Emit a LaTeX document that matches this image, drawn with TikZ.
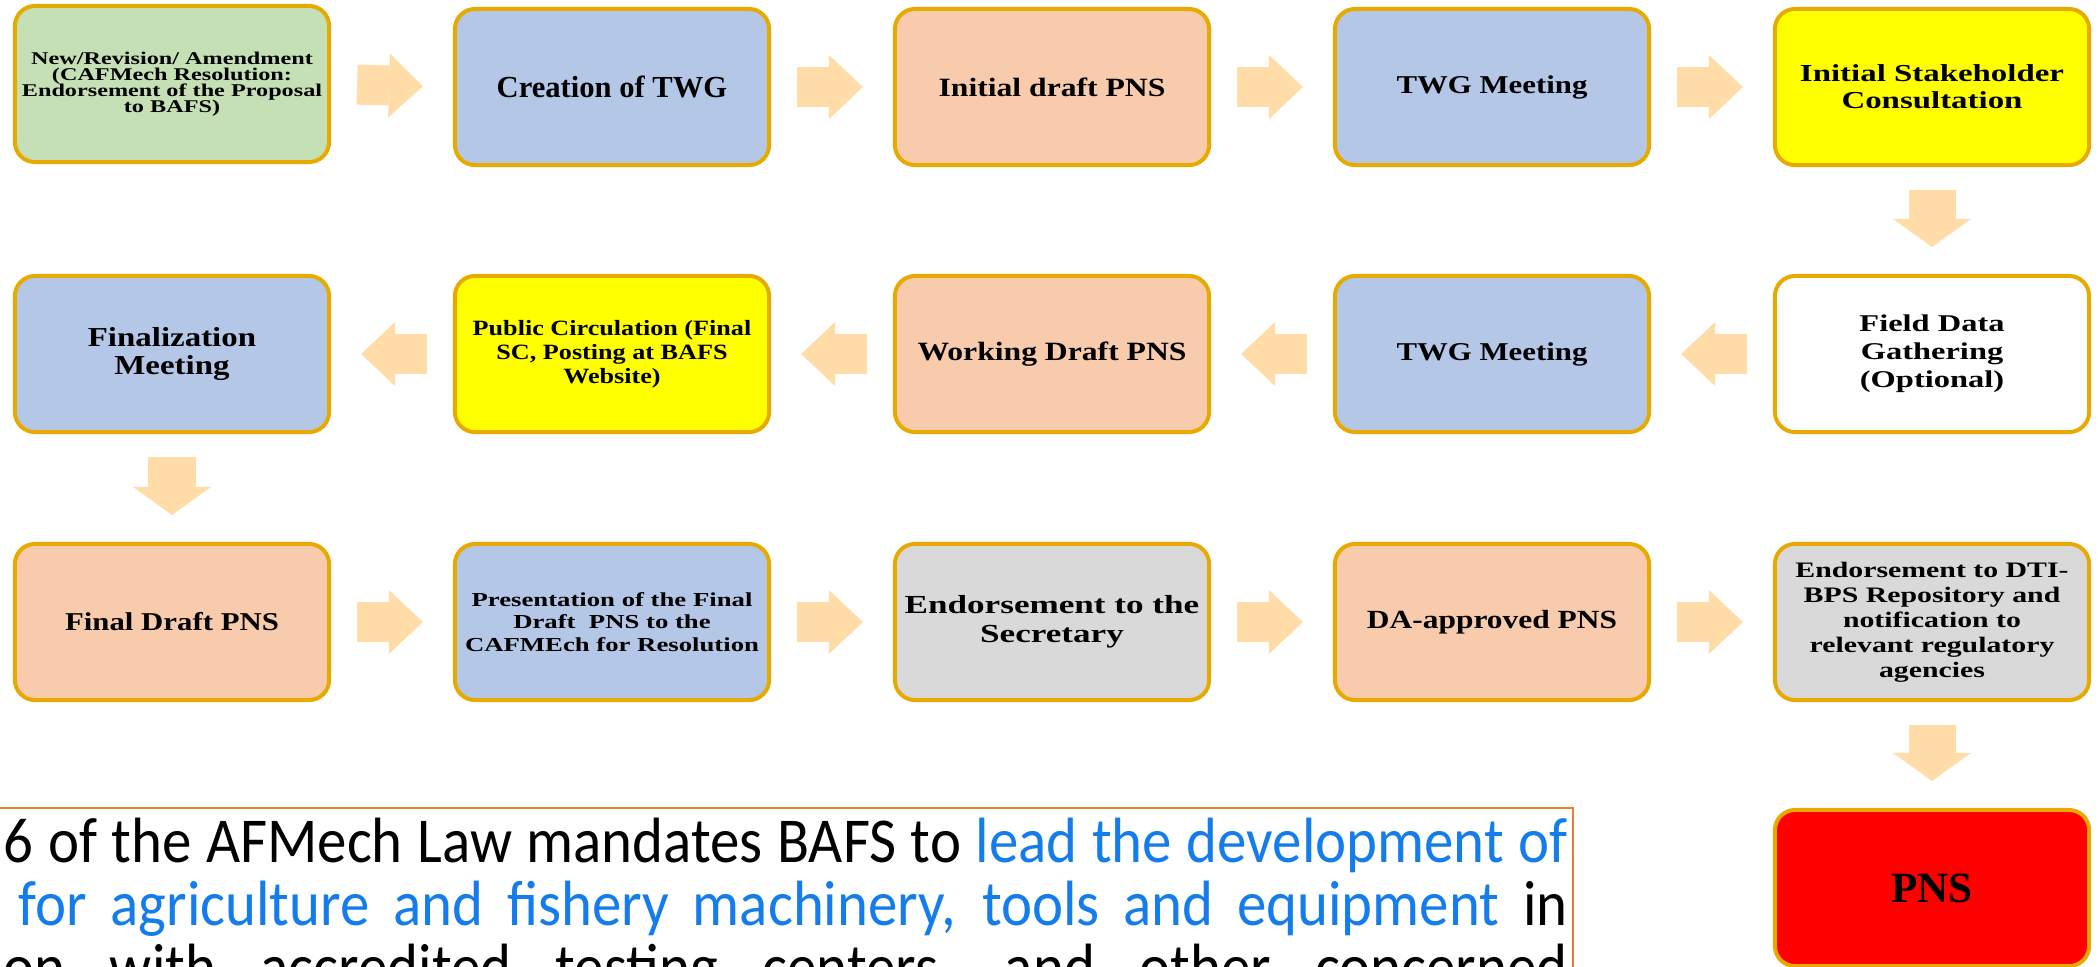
\documentclass[tikz,border=0pt]{standalone}
\usepackage{fontspec}
\usetikzlibrary{arrows.meta}

\newfontfamily\boxfont{Liberation Serif}
\newfontfamily\boxfontwide[FakeStretch=1.2]{Liberation Serif}
\newfontfamily\boxfontwider[FakeStretch=1.35]{Liberation Serif}
\newfontfamily\lawfont[FakeStretch=0.92]{Carlito}
\setlength{\lineskiplimit}{-20pt}

\definecolor{boxline}{RGB}{232,170,0}
\definecolor{flowfill}{RGB}{255,220,168}
\definecolor{stagegreen}{RGB}{197,224,180}
\definecolor{stageblue}{RGB}{180,199,231}
\definecolor{stagepeach}{RGB}{248,203,173}
\definecolor{stageyellow}{RGB}{255,255,0}
\definecolor{stagegray}{RGB}{217,217,217}
\definecolor{stagered}{RGB}{255,0,0}
\definecolor{lawline}{RGB}{237,125,49}
\definecolor{lawblue}{RGB}{20,125,235}

\begin{document}
\begin{tikzpicture}[x=0.01cm, y=-0.01cm,
  stage/.style={draw=boxline, line width=0.04cm, rounded corners=0.2cm,
    minimum width=3.14cm, minimum height=1.56cm, inner sep=0pt, align=center,
    font=\boxfontwide\bfseries\fontsize{7.3}{7.8}\selectfont},
  flow/.style={draw=flowfill, line width=0.4cm, shorten <=0.26cm, shorten >=0.3cm,
    -{Triangle[length=0.34cm, width=0.64cm, line width=0pt]}},
  flowdown/.style={draw=flowfill, line width=0.47cm, shorten <=0.23cm, shorten >=0.27cm,
    -{Triangle[length=0.28cm, width=0.78cm, line width=0pt]}},
  lawtext/.style={inner sep=0pt, anchor=base west,
    font=\lawfont\fontsize{18.2}{22}\selectfont}]

  \useasboundingbox (0,0) rectangle (2098,966);
  \clip (0,0) rectangle (2098,966);

  % First row, left to right
  \node[stage, fill=stagegreen, font=\boxfontwider\bfseries\fontsize{5.1}{4.5}\selectfont] (proposal) at (172,84)
    {New/Revision/ Amendment\\(CAFMech Resolution:\\Endorsement of the Proposal\\to BAFS)};
  \node[stage, fill=stageblue, font=\boxfont\bfseries\fontsize{8.7}{9}\selectfont] (twg) at (612,87) {Creation of TWG};
  \node[stage, fill=stagepeach, font=\boxfontwide\bfseries\fontsize{7.5}{7.8}\selectfont] (draft) at (1052,87) {Initial draft PNS};
  \node[stage, fill=stageblue] (meet1) at (1492,87) {TWG Meeting};
  \node[stage, fill=stageyellow, font=\boxfontwider\bfseries\fontsize{6.93}{7.7}\selectfont] (consult) at (1932,87)
    {Initial Stakeholder\\Consultation};

  % Second row, right to left
  \node[stage, fill=white, font=\boxfontwider\bfseries\fontsize{6.84}{8}\selectfont] (field) at (1932,354)
    {Field Data\\Gathering\\(Optional)};
  \node[stage, fill=stageblue] (meet2) at (1492,354) {TWG Meeting};
  \node[stage, fill=stagepeach, font=\boxfontwide\bfseries\fontsize{7.5}{7.8}\selectfont] (working) at (1052,354) {Working Draft PNS};
  \node[stage, fill=stageyellow, font=\boxfontwide\bfseries\fontsize{6.2}{6.8}\selectfont] (public) at (612,354)
    {Public Circulation (Final\\SC, Posting at BAFS\\Website)};
  \node[stage, fill=stageblue, font=\boxfontwide\bfseries\fontsize{7.8}{8}\selectfont] (final) at (172,354)
    {Finalization\\Meeting};

  % Third row, left to right
  \node[stage, fill=stagepeach] (fdraft) at (172,622) {Final Draft PNS};
  \node[stage, fill=stageblue, font=\boxfontwider\bfseries\fontsize{5.63}{6.4}\selectfont] (present) at (612,622)
    {Presentation of the Final\\Draft\ \ PNS to the\\CAFMEch for Resolution};
  \node[stage, fill=stagegray, font=\boxfontwider\bfseries\fontsize{7.4}{8.25}\selectfont] (secretary) at (1052,622)
    {Endorsement to the\\Secretary};
  \node[stage, fill=stagepeach, font=\boxfontwide\bfseries\fontsize{7.45}{7.8}\selectfont] (approved) at (1492,622) {DA-approved PNS};
  \node[stage, fill=stagegray, font=\boxfontwider\bfseries\fontsize{6.28}{7.1}\selectfont] (repo) at (1932,622)
    {Endorsement to DTI-\\BPS Repository and\\notification to\\relevant regulatory\\agencies};

  % The end product
  \node[stage, fill=stagered, font=\boxfont\bfseries\fontsize{12.3}{13}\selectfont] (pns) at (1932,888) {PNS};

  % Block arrows between the stages
  \draw[flow] (proposal.east) -- (twg.west);
  \draw[flow] (twg.east) -- (draft.west);
  \draw[flow] (draft.east) -- (meet1.west);
  \draw[flow] (meet1.east) -- (consult.west);
  \draw[flowdown] (consult.south) -- (field.north);
  \draw[flow] (field.west) -- (meet2.east);
  \draw[flow] (meet2.west) -- (working.east);
  \draw[flow] (working.west) -- (public.east);
  \draw[flow] (public.west) -- (final.east);
  \draw[flowdown] (final.south) -- (fdraft.north);
  \draw[flow] (fdraft.east) -- (present.west);
  \draw[flow] (present.east) -- (secretary.west);
  \draw[flow] (secretary.east) -- (approved.west);
  \draw[flow] (approved.east) -- (repo.west);
  \draw[flowdown] (repo.south) -- (pns.north);

  % Text box of the law, cut by the picture edge
  \draw[lawline, line width=0.025cm] (-20,808) rectangle (1573,1030);
  \node[lawtext] (law1) at (3,862) {\makebox[15.63cm][s]{6 of the AFMech Law mandates BAFS to \textcolor{lawblue}{lead the development of}}};
  \node[lawtext] (law2) at (18,925) {\makebox[15.48cm][s]{\textcolor{lawblue}{for agriculture and fishery machinery, tools and equipment} in}};
  \node[lawtext] (law3) at (3,988) {\makebox[15.63cm][s]{on with accredited testing centers, and other concerned}};

\end{tikzpicture}
\end{document}
